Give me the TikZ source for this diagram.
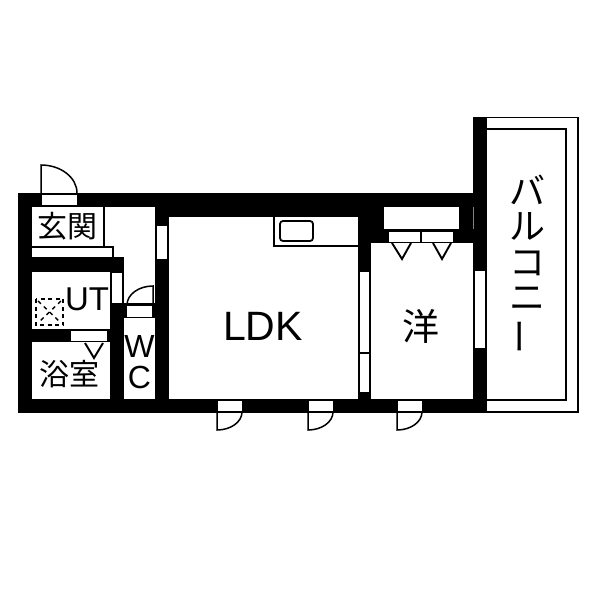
\documentclass[tikz,border=0pt]{standalone}
\usepackage{fontspec}
\setmainfont{Liberation Sans}
\newfontfamily\jpfont{Noto Sans CJK JP}
\begin{document}
\begin{tikzpicture}[
x=1pt,y=-1pt,
wallpart/.style={fill=black,draw=none},
opening/.style={fill=white,draw=none},
sash/.style={fill=white,draw=black,line width=1.2pt},
doorleaf/.style={draw=black,line width=1.5pt},
swingmark/.style={draw=black,line width=1.9pt},
fixture/.style={draw=black,line width=1.8pt,fill=white},
label/.style={inner sep=0pt,font=\fontsize{#1}{#1}\selectfont},
jplabel/.style={inner sep=0pt,font=\jpfont\fontsize{#1}{#1}\selectfont}
]
\useasboundingbox (0,0) rectangle (600,600);
% walls
\fill[wallpart] (18,193) rectangle (487,413);
\fill[wallpart] (473,117) rectangle (487,193);
% rooms
\fill[opening] (32,207) rectangle (155,257);
\fill[opening] (124,257) rectangle (155,303);
\fill[opening] (32,272) rectangle (110,329);
\fill[opening] (32,342) rectangle (110,399);
\fill[opening] (124,318) rectangle (155,399);
\fill[opening] (169,217) rectangle (358,399);
\fill[opening] (371,243) rectangle (473,399);
\fill[opening] (384,207) rectangle (459,229);
% balcony
\draw[black,line width=1.5pt] (487,117.5) -- (578,117.5) -- (578,412) -- (487,412);
\draw[black,line width=2pt] (487,129) -- (566,129) -- (566,400) -- (487,400);
% entrance step
\draw[black,line width=1.5pt] (104,207) -- (104,247);
\draw[black,line width=1.5pt] (32,247) -- (113,247) -- (113,257);
% windows
\fill[opening] (157,226) rectangle (167,259);
\fill[opening] (112,273) rectangle (122,303);
\draw[sash] (359,271) rectangle (370,353);
\draw[sash] (359,353) rectangle (370,393);
\draw[sash] (474.500,270) rectangle (485.500,349);
\draw[gray,line width=0.8pt] (473,207) -- (473,229);
% door gaps
\fill[opening] (42,195) rectangle (77,205);
\fill[opening] (71,331) rectangle (107,341);
\fill[opening] (127,306) rectangle (152,317);
\fill[opening] (389,232) rectangle (420,242);
\fill[opening] (422,232) rectangle (453,242);
\foreach \Left in {218,309,398}
  \fill[opening] (\Left,401) rectangle ++(24,10);
% door leaves
\draw[doorleaf] (41,193) -- (41,165) arc[start angle=-90,end angle=0,x radius=36,y radius=28];
\draw[doorleaf] (153,305) -- (153,286) arc[start angle=-90,end angle=-180,x radius=26,y radius=19];
\foreach \Left in {217,308,397}
  \draw[doorleaf] (\Left,412) -- (\Left,430) arc[start angle=90,end angle=0,x radius=25,y radius=18];
% triangles
\draw[swingmark] (85,343) -- (94,358) -- (103,343);
\draw[swingmark] (392,243) -- (402,259) -- (411,243);
\draw[swingmark] (433,243) -- (442,259) -- (451,243);
% kitchen
\draw[black,line width=1.5pt] (274,217) -- (274,246) -- (358,246);
\draw[fixture,rounded corners=3pt] (280,221) rectangle (313,241);
% washer
\draw[black,line width=2.2pt,dash pattern=on 4pt off 3.5pt] (36,299) rectangle (63,325);
\draw[black,line width=1.4pt,dash pattern=on 4pt off 4pt] (38,301) -- (61,323);
\draw[black,line width=1.4pt,dash pattern=on 4pt off 4pt] (61,301) -- (38,323);
% labels
\node[jplabel=30] (genkan) at (67,226) {玄関};
\node[label=33] (ut) at (87,299) {UT};
\node[jplabel=30] (yokushitsu) at (69,374) {浴室};
\node[label=32] (w) at (139.500,346) {W};
\node[label=32] (c) at (139.500,377) {C};
\node[label=41] (ldk) at (263,326) {LDK};
\node[jplabel=37] (yoshitsu) at (421,326) {洋};
\node[jplabel=36] (ba) at (527,190) {バ};
\node[jplabel=36] (ru) at (527,226) {ル};
\node[jplabel=36] (ko) at (527,263) {コ};
\node[jplabel=36] (ni) at (527,299) {ニ};
\node[jplabel=36,rotate=90] (bar) at (526,336) {ー};
\end{tikzpicture}
\end{document}
